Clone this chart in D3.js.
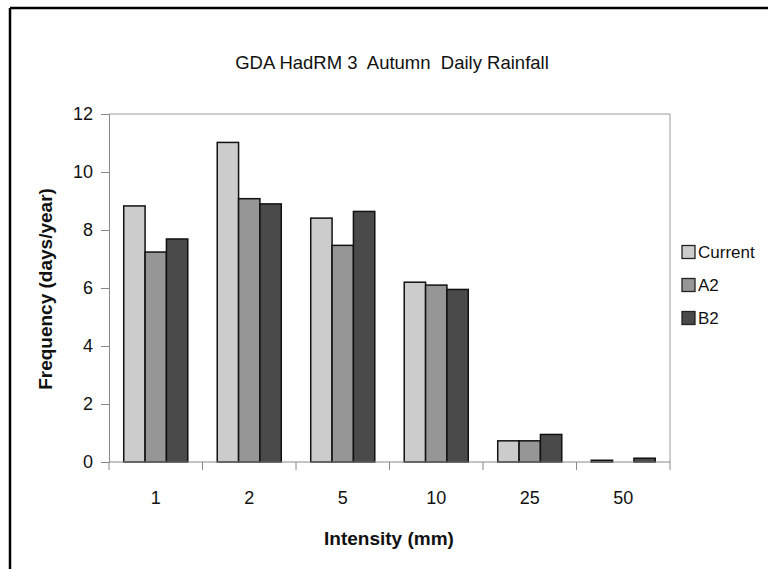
<!DOCTYPE html>
<html><head><meta charset="utf-8">
<script src="https://cdn.jsdelivr.net/npm/d3@7"></script>
<style>
html,body{margin:0;padding:0;background:#fff;}
svg{display:block;font-family:"Liberation Sans",Arial,sans-serif;}
</style></head>
<body>
<svg id="c" width="768" height="569"></svg>
<script>
const categories = ["1","2","5","10","25","50"];
const seriesNames = ["Current","A2","B2"];
const current = [8.83, 11.02, 8.41, 6.2, 0.73, 0.06];
const a2 = [7.24, 9.08, 7.47, 6.1, 0.73, 0];
const b2 = [7.69, 8.9, 8.64, 5.95, 0.95, 0.13];
const yTicks = [0,2,4,6,8,10,12];
const title = "GDA HadRM 3  Autumn  Daily Rainfall";
const yTitle = "Frequency (days/year)";
const xTitle = "Intensity (mm)";
const colors = ["#cccccc","#969696","#4a4a4a"];

const seriesVals = [current, a2, b2];
const data = categories.map((c,i)=>({cat:c, vals: seriesNames.map((s,j)=>({s, v: seriesVals[j][i]}))}));

const svg = d3.select("#c");
const L=109, R=670, T=114, B=462;

// outer frame
svg.append("line").attr("x1",10).attr("x2",768).attr("y1",8).attr("y2",8).attr("stroke","#000").attr("stroke-width",2.5);
svg.append("line").attr("x1",10).attr("x2",10).attr("y1",8).attr("y2",569).attr("stroke","#000").attr("stroke-width",2.5);

const x = d3.scaleBand().domain(categories).range([L,R]).padding(0);
const xi = d3.scaleBand().domain(seriesNames).range([0,x.bandwidth()]).paddingInner(0).paddingOuter(0.69);
const y = d3.scaleLinear().domain([0,12]).range([B,T]);

// plot area border (top & right)
svg.append("line").attr("x1",L).attr("x2",R).attr("y1",T).attr("y2",T).attr("stroke","#999").attr("stroke-width",1);
svg.append("line").attr("x1",R).attr("x2",R).attr("y1",T).attr("y2",B).attr("stroke","#999").attr("stroke-width",1);

// bars
const g = svg.append("g");
data.forEach(d=>{
  g.selectAll(null).data(d.vals.filter(v=>v.v>0)).enter().append("rect")
    .attr("x",v=>x(d.cat)+xi(v.s))
    .attr("width",xi.bandwidth())
    .attr("y",v=>y(v.v))
    .attr("height",v=>B-y(v.v))
    .attr("fill",(v)=>colors[seriesNames.indexOf(v.s)])
    .attr("stroke","#111").attr("stroke-width",1.5);
});

// y axis
const yAxis = d3.axisLeft(y).tickValues(yTicks).tickSize(8).tickPadding(8);
const ya = svg.append("g").attr("transform",`translate(${L},0)`).call(yAxis);
ya.select(".domain").attr("stroke","#888");
ya.selectAll(".tick line").attr("stroke","#888");
ya.selectAll("text").attr("font-size",18).attr("fill","#111").attr("font-family","Liberation Sans, Arial, sans-serif");

// x axis: ticks at category boundaries
const xa = svg.append("g").attr("transform",`translate(0,${B})`);
xa.append("line").attr("x1",L).attr("x2",R).attr("stroke","#888");
const bounds = categories.map(c=>x(c)).concat([R]);
xa.selectAll(".tk").data(bounds).enter().append("line")
  .attr("x1",d=>d).attr("x2",d=>d).attr("y1",0).attr("y2",8).attr("stroke","#888");
xa.selectAll(".lb").data(categories).enter().append("text")
  .attr("x",c=>x(c)+x.bandwidth()/2).attr("y",42)
  .attr("text-anchor","middle").attr("font-size",18).attr("fill","#111").text(c=>c);

// titles
svg.append("text").attr("x",392).attr("y",69).attr("text-anchor","middle")
  .attr("font-size",18.5).attr("fill","#111").style("white-space","pre").text(title);
svg.append("text").attr("transform","translate(52,289) rotate(-90)").attr("text-anchor","middle")
  .attr("font-size",19).attr("font-weight","bold").attr("fill","#111").text(yTitle);
svg.append("text").attr("x",389).attr("y",545).attr("text-anchor","middle")
  .attr("font-size",19).attr("font-weight","bold").attr("fill","#111").text(xTitle);

// legend
const lg = svg.append("g");
seriesNames.forEach((s,i)=>{
  const cy = 252 + i*33;
  lg.append("rect").attr("x",682).attr("y",cy-6.5).attr("width",13).attr("height",13)
    .attr("fill",colors[i]).attr("stroke","#222").attr("stroke-width",1.3);
  lg.append("text").attr("x",698).attr("y",cy+6).attr("font-size",17).attr("fill","#111").text(s);
});
</script>
</body></html>
